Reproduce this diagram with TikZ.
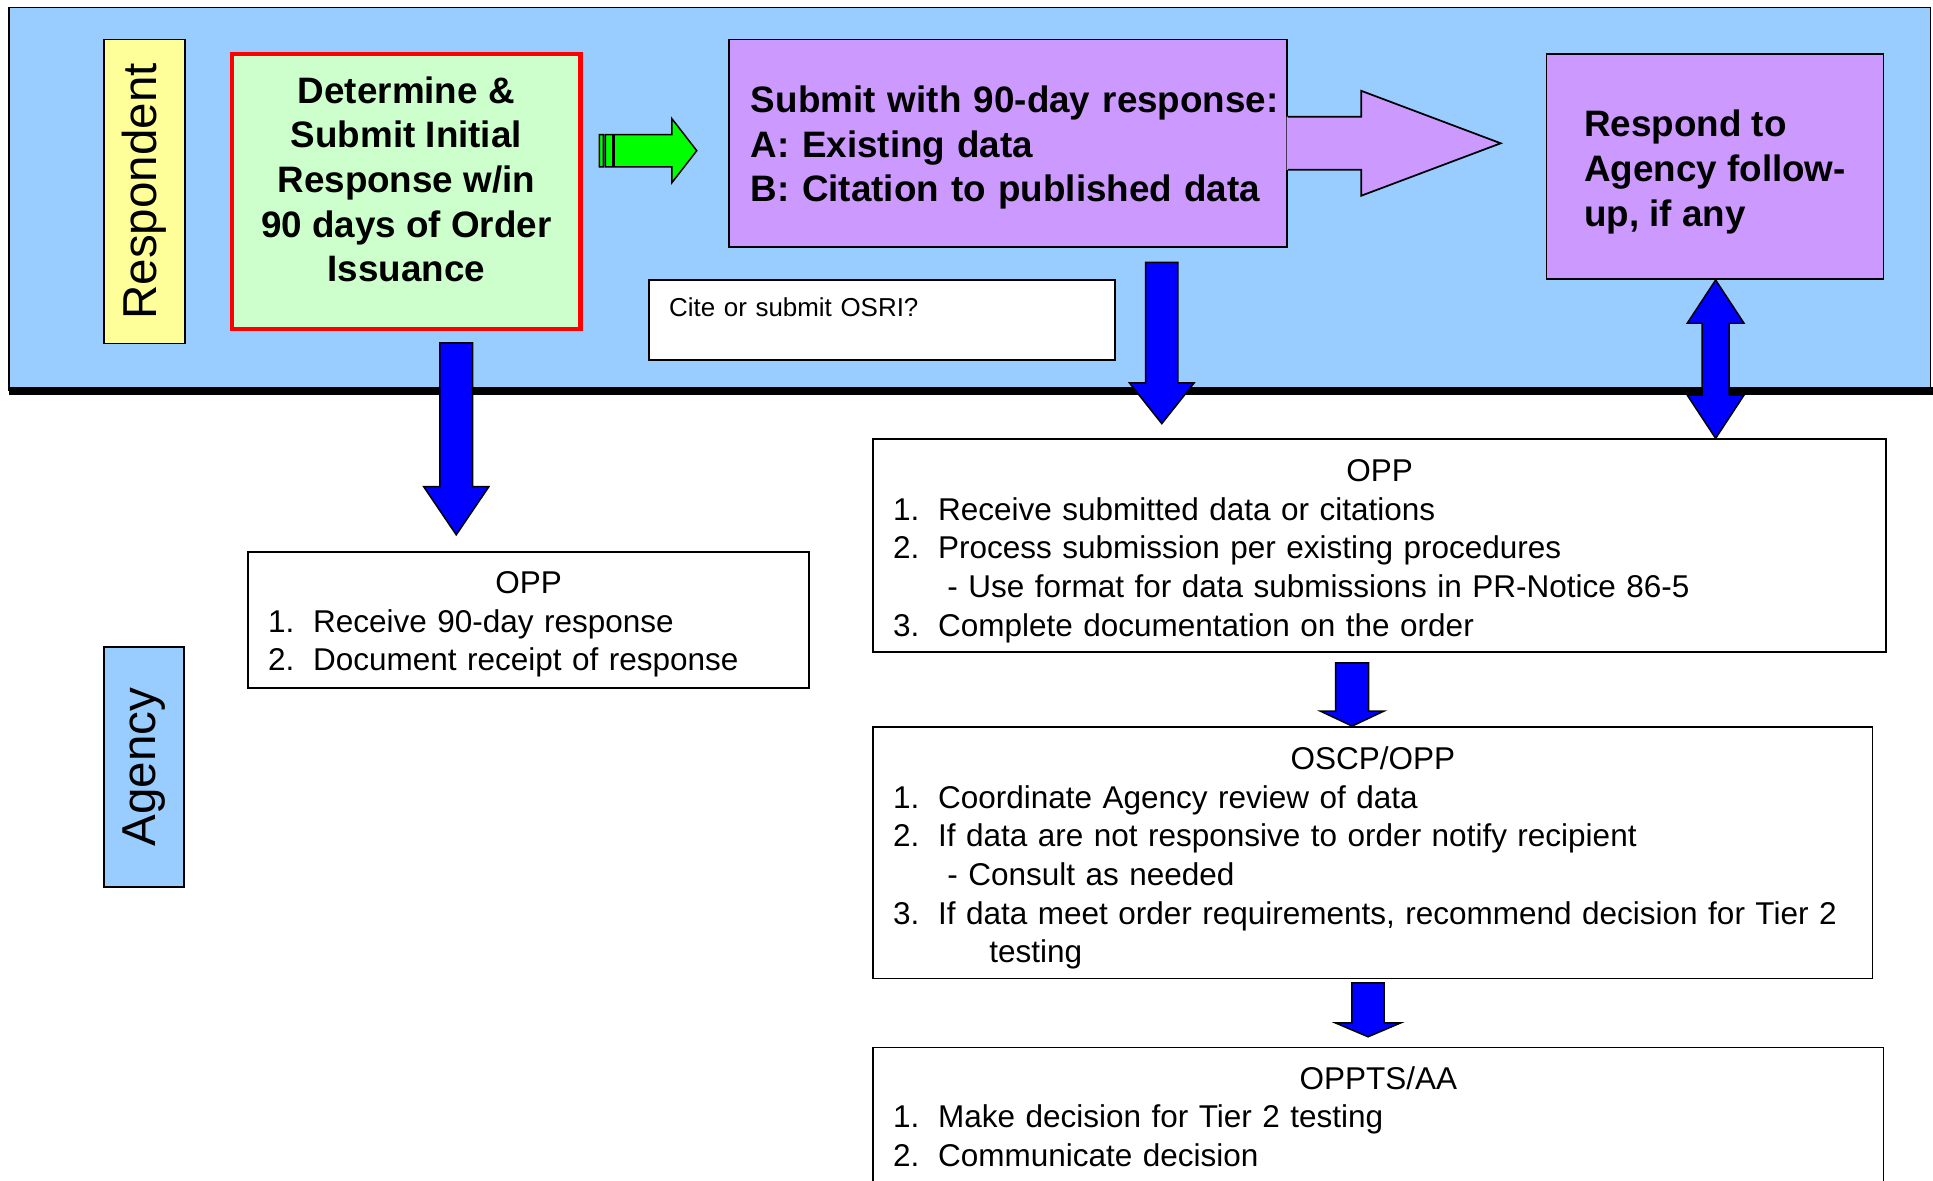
\documentclass[tikz,border=0pt]{standalone}
\usepackage{fontspec}
\setmainfont{Liberation Sans}
\usetikzlibrary{calc}
\definecolor{lanebg}{HTML}{99CCFF}
\definecolor{lblyellow}{HTML}{FFFF99}
\definecolor{initgreen}{HTML}{CCFFCC}
\definecolor{subpurple}{HTML}{CC99FF}
\definecolor{arrgreen}{HTML}{00FF00}
\definecolor{arrblue}{HTML}{0000FF}
\newcommand\itm[2]{\makebox[36.5pt][l]{#1}#2}
\newcommand\topgap[1]{\rule{0pt}{#1pt}}
\newcommand\blkdown[5]{%
  \filldraw[blkarrow] let \p1=(#1),\p2=(#2) in
    (\x1-#3pt,\y1)--(\x1+#3pt,\y1)--(\x1+#3pt,\y2+#5pt)--(\x1+#4pt,\y2+#5pt)
    --(\x1,\y2)--(\x1-#4pt,\y2+#5pt)--(\x1-#3pt,\y2+#5pt)--cycle;}
\newcommand\blkboth[5]{%
  \filldraw[blkarrow] let \p1=(#1),\p2=(#2) in
    (\x1,\y1)--(\x1+#4pt,\y1-#5pt)--(\x1+#3pt,\y1-#5pt)--(\x1+#3pt,\y2+#5pt)
    --(\x1+#4pt,\y2+#5pt)--(\x1,\y2)--(\x1-#4pt,\y2+#5pt)--(\x1-#3pt,\y2+#5pt)
    --(\x1-#3pt,\y1-#5pt)--(\x1-#4pt,\y1-#5pt)--cycle;}
\begin{document}
\begin{tikzpicture}[x=1pt,y=-1pt,
    box/.style={draw=black,line width=1.4pt,fill=white,inner xsep=16pt,inner ysep=0pt,
      align=left,font=\fontsize{25.5}{31.25}\selectfont},
    boldbox/.style={draw=black,line width=1.4pt,fill=subpurple,inner sep=0pt,
      font=\bfseries\fontsize{29.8}{36.2}\selectfont},
    lanelbl/.style={draw=black,line width=1.4pt,rotate=90,inner sep=0pt,
      font=\fontsize{38.5}{40}\selectfont},
    blkarrow/.style={fill=arrblue,draw=black,line width=1.2pt,line join=miter}]
  \useasboundingbox (0,0) rectangle (1565,956);
  \draw[fill=lanebg,line width=1.4pt] (7,6) rectangle (1563,316);
  \draw[line width=6.5pt] (7,316.5)--(1565,316.5);
  \node[lanelbl,fill=lblyellow,minimum width=246pt,minimum height=66pt] (resp) at (117,155) {Respondent};
  \node[lanelbl,fill=lanebg,minimum width=194pt,minimum height=65pt] (agency) at (116.5,621) {Agency};
  \node[draw=red,line width=3.3pt,fill=initgreen,minimum width=282pt,minimum height=222pt,inner sep=0pt,
    align=center,font=\bfseries\fontsize{29.8}{36.2}\selectfont] (init) at (329,155)
    {Determine \&\\Submit Initial\\Response w/in\\90 days of Order\\Issuance\rule[-20pt]{0pt}{20pt}};
  \node[boldbox,minimum width=452pt,minimum height=168pt,inner xsep=18pt,text width=416pt,align=left] (submit) at (816,116)
    {\mbox{\topgap{28.5}Submit with 90-day response:}\\\mbox{A: Existing data}\\\mbox{B: Citation to published data}};
  \node[boldbox,minimum width=273pt,minimum height=182pt,align=left] (respond) at (1388.5,135)
    {\topgap{30}Respond to\\Agency follow-\\up, if any};
  \node[box,anchor=north west,minimum width=377pt,text width=345pt,inner ysep=8pt,text height=21.7pt,text depth=27.3pt,
    font=\fontsize{21}{26}\selectfont] (osri) at (525,226) {Cite or submit OSRI?};
  \node[box,minimum width=454pt,minimum height=110pt,text width=422pt] (oppA) at (428,502)
    {\topgap{25}\hfill OPP\hfill\null\\\itm{1.}{Receive 90-day response}\\\itm{2.}{Document receipt of response}};
  \node[box,minimum width=820pt,minimum height=172pt,text width=788pt] (oppB) at (1117,441.6)
    {\topgap{27}\hfill OPP\hfill\null\\\itm{1.}{Receive submitted data or citations}\\\itm{2.}{Process submission per existing procedures}\\
     \hspace*{44pt}- Use format for data submissions in PR-Notice 86-5\\\itm{3.}{Complete documentation on the order}};
  \node[box,minimum width=809pt,minimum height=203.7pt,text width=777pt] (oscp) at (1111.5,690.4)
    {\topgap{27}\hfill OSCP/OPP\hfill\null\\\itm{1.}{Coordinate Agency review of data}\\\itm{2.}{If data are not responsive to order notify recipient}\\
     \hspace*{44pt}- Consult as needed\\\itm{3.}{\mbox{If data meet order requirements, recommend decision for Tier 2}}\\\hspace*{78pt}testing};
  \node[box,minimum width=818pt,minimum height=116pt,text width=786pt] (oppts) at (1116,906)
    {\hfill OPPTS/AA\hfill\null\\\itm{1.}{Make decision for Tier 2 testing}\\\itm{2.}{Communicate decision\rule[-4pt]{0pt}{4pt}}};
  % green arrow between the first two boxes
  \coordinate (gtail) at (485.3,122);
  \coordinate (gtip) at (564.1,122);
  \filldraw[fill=arrgreen,draw=black,line width=1.2pt] let \p1=(gtail),\p2=(gtip) in
    (\x1,\y1-13.1pt) rectangle (\x1+3.2pt,\y1+13.1pt)
    (\x1+4.8pt,\y1-13.1pt) rectangle (\x1+10.8pt,\y1+13.1pt)
    (\x1+11.9pt,\y1-13.1pt)--(\x2-20.2pt,\y1-13.1pt)--(\x2-20.2pt,\y1-26pt)--(\x2,\y2)
    --(\x2-20.2pt,\y1+26pt)--(\x2-20.2pt,\y1+13.1pt)--(\x1+11.9pt,\y1+13.1pt)--cycle;
  % purple arrow out of the submit box
  \coordinate (ptip) at (1215,116);
  \fill[subpurple] let \p1=(submit.east),\p2=(ptip) in
    (\x1-1pt,\y1+21.5pt)--(\x2-113pt,\y1+21.5pt)--(\x2-113pt,\y1+42.5pt)--(\x2,\y2)
    --(\x2-113pt,\y1-42.5pt)--(\x2-113pt,\y1-21.5pt)--(\x1-1pt,\y1-21.5pt)--cycle;
  \draw[line width=1.4pt] let \p1=(submit.east),\p2=(ptip) in
    (\x1,\y1+21.5pt)--(\x2-113pt,\y1+21.5pt)--(\x2-113pt,\y1+42.5pt)--(\x2,\y2)
    --(\x2-113pt,\y1-42.5pt)--(\x2-113pt,\y1-21.5pt)--(\x1,\y1-21.5pt);
  % blue arrows
  \coordinate (a1s) at (369.4,277.5);
  \coordinate (a1e) at (369.4,433);
  \blkdown{a1s}{a1e}{13.2}{26.4}{39}
  \coordinate (a2s) at (940.6,212.4);
  \coordinate (a2e) at (940.6,343);
  \blkdown{a2s}{a2e}{13}{26.2}{33}
  \coordinate (a3s) at (1094.7,536.6);
  \coordinate (a3e) at (1094.7,0 |- oscp.north);
  \blkdown{a3s}{a3e}{13.3}{25.9}{12.2}
  \coordinate (a4s) at (1107.6,795.7);
  \coordinate (a4e) at (1107.6,839.4);
  \blkdown{a4s}{a4e}{13.1}{26.6}{11.3}
  \coordinate (d1) at (1389,0 |- respond.south);
  \coordinate (d2) at (1389,0 |- oppB.north);
  \blkboth{d1}{d2}{11}{23}{35}
\end{tikzpicture}
\end{document}
